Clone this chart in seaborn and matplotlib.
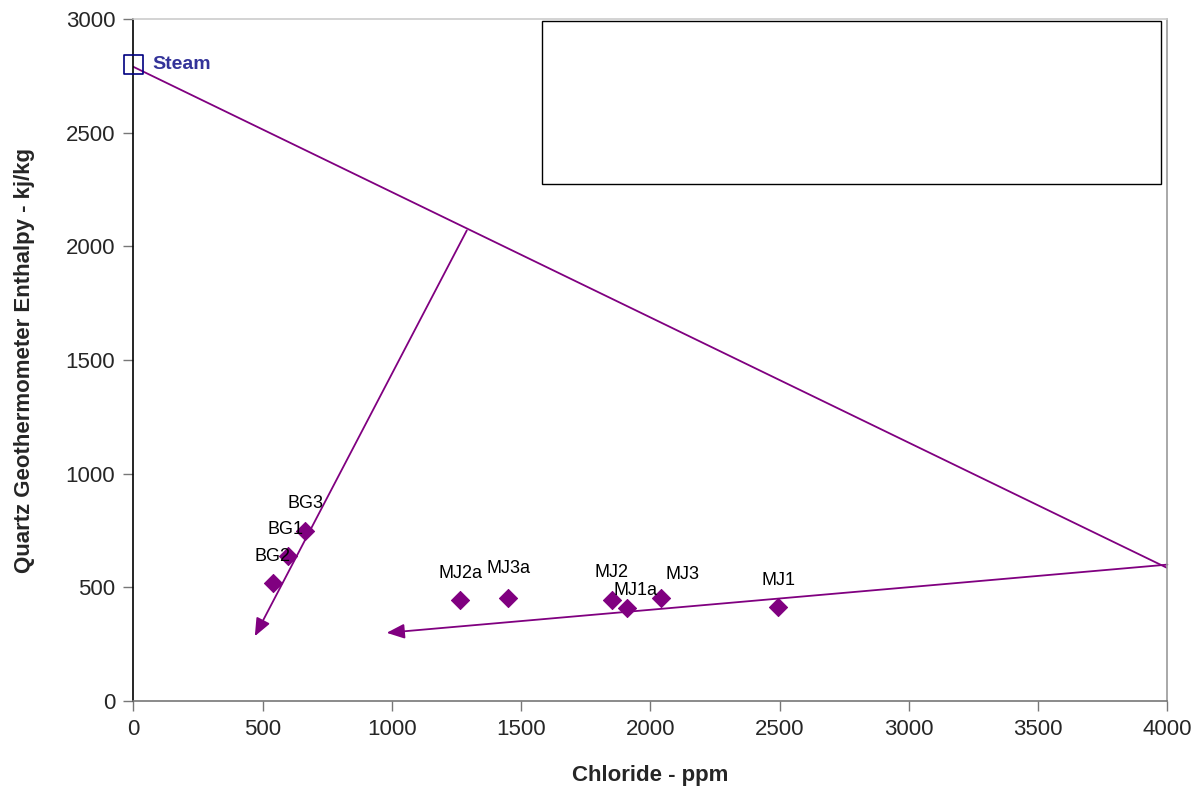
import matplotlib
matplotlib.use("Agg")
import matplotlib.pyplot as plt
import seaborn as sns
import pandas as pd
from matplotlib.patches import Rectangle

sns.set_style("white")
plt.rcParams['font.family'] = ['Liberation Sans', 'DejaVu Sans']

# Data
sample_names = ["BG2", "BG1", "BG3", "MJ2a", "MJ3a", "MJ2", "MJ1a", "MJ3", "MJ1"]
chloride = [540, 600, 666, 1265, 1450, 1850, 1910, 2040, 2495]
enthalpy = [518, 637, 747, 443, 452, 443, 410, 452, 413]

steam_chloride = [0]
steam_enthalpy = [2800]

# mixing / boiling lines (start -> end)
line_steam = ([0, 4000], [2790, 585])
arrow_boiling = ([4000, 980], [600, 300])
arrow_dilution = ([1290, 470], [2070, 285])

label_offsets = {"BG2": (0, 13), "BG1": (-2, 13), "BG3": (0, 14), "MJ2a": (0, 13),
                 "MJ3a": (0, 15), "MJ2": (0, 14), "MJ1a": (6, 6), "MJ3": (16, 11),
                 "MJ1": (0, 13)}

df = pd.DataFrame({"name": sample_names, "chloride": chloride, "enthalpy": enthalpy})

fig = plt.figure(figsize=(12.01, 7.93), dpi=100)
ax = fig.add_axes([0.111, 0.116, 0.861, 0.860])

purple = "#800080"

ax.plot(line_steam[0], line_steam[1], color=purple, lw=1.3, zorder=2)
for xs, ys in (arrow_boiling, arrow_dilution):
    ax.annotate("", xy=(xs[1], ys[1]), xytext=(xs[0], ys[0]),
                arrowprops=dict(arrowstyle="-|>,head_length=0.6,head_width=0.25",
                                color=purple, lw=1.3,
                                mutation_scale=18, shrinkA=0, shrinkB=0), zorder=2)

sns.scatterplot(data=df, x="chloride", y="enthalpy", ax=ax, marker="D", s=85,
                color=purple, edgecolor=purple, zorder=3, legend=False)

for n, x, y in zip(sample_names, chloride, enthalpy):
    dx, dy = label_offsets[n]
    ax.annotate(n, (x, y), xytext=(dx, dy), textcoords="offset points",
                ha="center", va="bottom", fontsize=13, color="black", zorder=4)

ax.scatter(steam_chloride, steam_enthalpy, marker="s", s=190, facecolor="none",
           edgecolor="#000080", lw=1.2, zorder=4, clip_on=False)
ax.annotate("Steam", (steam_chloride[0], steam_enthalpy[0]), xytext=(14, 0),
            textcoords="offset points", ha="left", va="center", fontsize=14,
            fontweight="bold", color="#333399")

ax.add_patch(Rectangle((0.395, 0.758), 0.599, 0.239, transform=ax.transAxes,
                       facecolor="white", edgecolor="black", lw=1.0, zorder=5))

ax.set_xlim(0, 4000)
ax.set_ylim(0, 3000)
ax.set_xticks(range(0, 4001, 500))
ax.set_yticks(range(0, 3001, 500))
ax.tick_params(axis="both", labelsize=16, direction="out", length=7, width=1,
               color="#777777", left=True, bottom=True, pad=6)
ax.set_xlabel("Chloride - ppm", fontsize=16, fontweight="bold", labelpad=18)
ax.set_ylabel("Quartz Geothermometer Enthalpy - kj/kg", fontsize=16,
              fontweight="bold", labelpad=22)

ax.spines["left"].set_color("black")
ax.spines["bottom"].set_color("#777777")
ax.spines["right"].set_color("#999999")
ax.spines["top"].set_color("#cccccc")
for s in ax.spines.values():
    s.set_linewidth(1.2)

fig.savefig("out.png", dpi=100)
